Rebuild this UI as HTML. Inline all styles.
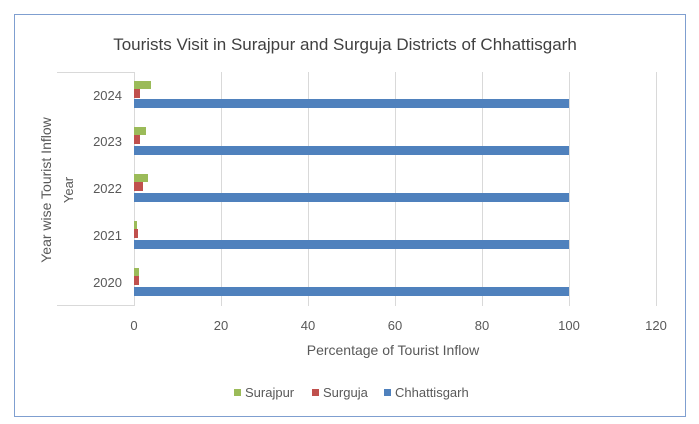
<!DOCTYPE html>
<html><head><style>
body{margin:0;background:#fff;}
svg{display:block;font-family:"Liberation Sans",sans-serif;}
</style></head><body>
<svg width="699" height="424" viewBox="0 0 699 424">
<rect x="0" y="0" width="699" height="424" fill="#fff"/>
<rect x="14.5" y="14.5" width="671" height="402" fill="#fff" stroke="#7f9fd0" stroke-width="1"/>
<text x="345" y="50" text-anchor="middle" font-size="17" fill="#404040">Tourists Visit in Surajpur and Surguja Districts of Chhattisgarh</text>
<g stroke="#d9d9d9" stroke-width="1">
<line x1="221.5" y1="72" x2="221.5" y2="306"/>
<line x1="308.5" y1="72" x2="308.5" y2="306"/>
<line x1="395.5" y1="72" x2="395.5" y2="306"/>
<line x1="482.5" y1="72" x2="482.5" y2="306"/>
<line x1="569.5" y1="72" x2="569.5" y2="306"/>
<line x1="656.5" y1="72" x2="656.5" y2="306"/>
<line x1="134.5" y1="72" x2="134.5" y2="306"/>
<line x1="57" y1="72.5" x2="134" y2="72.5"/>
<line x1="57" y1="305.5" x2="134" y2="305.5"/>
</g>
<g font-size="13" fill="#595959" text-anchor="end">
<text x="122" y="100">2024</text>
<text x="122" y="146">2023</text>
<text x="122" y="193">2022</text>
<text x="122" y="240">2021</text>
<text x="122" y="287">2020</text>
</g>
<g>
<rect x="134" y="81" width="17" height="8" fill="#9bbb59"/><rect x="134" y="89" width="6" height="9" fill="#c0504d"/><rect x="134" y="99" width="435" height="9" fill="#4f81bd"/>
<rect x="134" y="127" width="12" height="8" fill="#9bbb59"/><rect x="134" y="135" width="6" height="9" fill="#c0504d"/><rect x="134" y="146" width="435" height="9" fill="#4f81bd"/>
<rect x="134" y="174" width="14" height="8" fill="#9bbb59"/><rect x="134" y="182" width="9" height="9" fill="#c0504d"/><rect x="134" y="193" width="435" height="9" fill="#4f81bd"/>
<rect x="134" y="221" width="3" height="8" fill="#9bbb59"/><rect x="134" y="229" width="4" height="9" fill="#c0504d"/><rect x="134" y="240" width="435" height="9" fill="#4f81bd"/>
<rect x="134" y="268" width="5" height="8" fill="#9bbb59"/><rect x="134" y="276" width="5" height="9" fill="#c0504d"/><rect x="134" y="287" width="435" height="9" fill="#4f81bd"/>
</g>
<g font-size="13" fill="#595959" text-anchor="middle">
<text x="134" y="330">0</text><text x="221" y="330">20</text><text x="308" y="330">40</text><text x="395" y="330">60</text><text x="482" y="330">80</text><text x="569" y="330">100</text><text x="656" y="330">120</text>
</g>
<text x="393" y="355" text-anchor="middle" font-size="14" fill="#595959">Percentage  of Tourist Inflow</text>
<text transform="translate(51,190) rotate(-90)" text-anchor="middle" font-size="14" fill="#595959">Year wise Tourist Inflow</text>
<text transform="translate(73,190) rotate(-90)" text-anchor="middle" font-size="13" fill="#595959">Year</text>
<g font-size="13" fill="#595959">
<rect x="234" y="389" width="7" height="7" fill="#9bbb59"/><text x="245" y="397">Surajpur</text>
<rect x="312" y="389" width="7" height="7" fill="#c0504d"/><text x="323" y="397">Surguja</text>
<rect x="384" y="389" width="7" height="7" fill="#4f81bd"/><text x="395" y="397">Chhattisgarh</text>
</g>
</svg>
</body></html>
